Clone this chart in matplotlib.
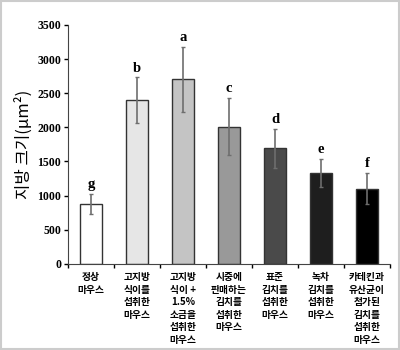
import matplotlib.pyplot as plt
import numpy as np
from matplotlib.patches import Rectangle

plt.rcParams['font.family'] = ['Noto Sans CJK KR', 'DejaVu Sans']

groups = ['정상\n마우스',
          '고지방\n식이를\n섭취한\n마우스',
          '고지방\n식이 +\n1.5%\n소금을\n섭취한\n마우스',
          '시중에\n판매하는\n김치를\n섭취한\n마우스',
          '표준\n김치를\n섭취한\n마우스',
          '녹차\n김치를\n섭취한\n마우스',
          '카테킨과\n유산균이\n첨가된\n김치를\n섭취한\n마우스']
fat_size = [880, 2400, 2700, 2010, 1690, 1330, 1100]
fat_err = [150, 330, 480, 420, 290, 210, 230]
letters = ['g', 'b', 'a', 'c', 'd', 'e', 'f']
bar_colors = ['#ffffff', '#e6e6e6', '#c4c4c4', '#999999', '#4a4a4a', '#1e1e1e', '#000000']

fig = plt.figure(figsize=(4, 3.5), dpi=100)
ax = fig.add_axes([0.17, 0.246, 0.805, 0.683])

x = np.arange(len(groups))
ax.bar(x, fat_size, width=0.47, color=bar_colors, edgecolor='#333333', linewidth=1.0, zorder=2)
ax.errorbar(x, fat_size, yerr=fat_err, fmt='none', ecolor='#6e6e6e',
            elinewidth=1.2, capsize=1.5, capthick=1.0, zorder=3)

for xi, v, e, lt in zip(x, fat_size, fat_err, letters):
    ax.text(xi, v + e + 40, lt, ha='center', va='bottom', fontsize=10.5,
            fontweight='bold', family='Liberation Serif')

ax.set_xlim(-0.5, 6.5)
ax.set_ylim(0, 3500)
ax.set_yticks(np.arange(0, 3501, 500))
for lab in ax.get_yticklabels():
    lab.set_family('Liberation Serif')
    lab.set_fontweight('bold')
    lab.set_fontsize(8.5)

ax.set_xticks(x)
ax.set_xticklabels(groups, fontsize=7, fontweight='bold', linespacing=1.32, va='top')
ax.tick_params(axis='x', length=0, pad=6)
ax.set_xticks(np.arange(-0.5, 7, 1), minor=True)
ax.tick_params(axis='x', which='minor', length=3, direction='out', width=1)
ax.tick_params(axis='y', length=3, direction='out', width=1, pad=2)

for s in ['top', 'right']:
    ax.spines[s].set_visible(False)
ax.spines['left'].set_color('#444444')
ax.spines['bottom'].set_color('#444444')

ax.set_ylabel('지방 크기(μm²)', fontsize=12, labelpad=3)

fig.patches.append(Rectangle((0.002, 0.002), 0.996, 0.995, transform=fig.transFigure,
                             fill=False, edgecolor='#cccccc', linewidth=1.5))

fig.savefig('out.png', dpi=100)
